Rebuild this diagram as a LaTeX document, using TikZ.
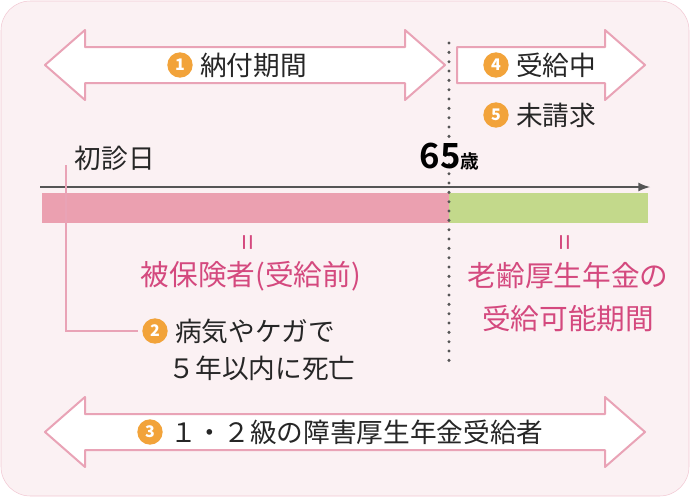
\documentclass[tikz,border=0pt]{standalone}
\usepackage{fontspec}
\setmainfont{Noto Sans CJK JP}
\newfontfamily\boldjp{Noto Sans CJK JP Bold}
\definecolor{bgpink}{HTML}{FBF1F3}
\definecolor{edgepink}{HTML}{E9A3B6}
\definecolor{barpink}{HTML}{EBA0B0}
\definecolor{bargreen}{HTML}{C3D98B}
\definecolor{textpink}{HTML}{D4497E}
\definecolor{badge}{HTML}{F2A33A}
\definecolor{axisgray}{HTML}{555555}
\tikzset{
  badge/.style={circle,fill=badge,text=white,inner sep=0pt,minimum size=19pt,font=\fontsize{12}{12}\selectfont\bfseries},
  label/.style={font=\fontsize{20}{20}\selectfont,text=black!85,anchor=west},
  pinklabel/.style={font=\fontsize{21.5}{32}\selectfont,text=textpink,align=center},
  arrowbox/.style={fill=white,draw=edgepink,line width=1.5pt,line join=round}
}
\begin{document}
\begin{tikzpicture}[x=0.75pt,y=-0.75pt]
  \useasboundingbox (0,0) rectangle (690,497);
  \fill[bgpink,draw=edgepink!60,rounded corners=22pt] (1,1) rectangle (689,496);
  % top arrows
  \draw[arrowbox] (45,65) -- (85,30) -- (85,47) -- (405,47) -- (405,30) -- (445,65)
    -- (405,100) -- (405,83) -- (85,83) -- (85,100) -- cycle;
  \draw[arrowbox] (457,47) -- (605,47) -- (605,30) -- (645,65) -- (605,100) -- (605,83)
    -- (457,83) -- cycle;
  % bottom arrow
  \draw[arrowbox] (45,432) -- (85,397) -- (85,414) -- (605,414) -- (605,397) -- (645,432)
    -- (605,467) -- (605,450) -- (85,450) -- (85,467) -- cycle;
  % bars
  \fill[barpink] (42,193) rectangle (449,223);
  \fill[bargreen] (449,193) rectangle (648,223);
  \draw[white,line width=2pt] (66,193) -- (66,223);
  \draw[axisgray,line width=2pt,-latex] (40,187) -- (650,187);
  \draw[axisgray,line width=2.5pt,line cap=round,dash pattern=on 0pt off 7pt] (449,43) -- (449,368);
  % first visit line
  \draw[edgepink,line width=1.5pt] (66,165) -- (66,331) -- (138,331);
  % labels
  \node[badge] (b1) at (180,65) {1};
  \node[label] (t1) at ([xshift=2pt]b1.east) {納付期間};
  \node[badge] (b4) at (496,65) {4};
  \node[label] (t4) at ([xshift=2pt]b4.east) {受給中};
  \node[badge] (b5) at (496,115) {5};
  \node[label] (t5) at ([xshift=2pt]b5.east) {未請求};
  \node[label] (first) at (70,158) {初診日};
  \node[anchor=west] (age) at (415,157) {\boldjp\fontsize{26}{26}\selectfont 65\fontsize{14}{14}\selectfont 歳};
  \node[pinklabel,rotate=90] (eq1) at (251,243) {=};
  \node[pinklabel,rotate=90] (eq2) at (568,243) {=};
  \node[pinklabel] (insured) at (251,276) {被保険者(受給前)};
  \node[pinklabel] (pension) at (568,297) {老齢厚生年金の\\受給可能期間};
  \node[badge] (b2) at (155,331) {2};
  \node[label] (t2) at ([xshift=2pt]b2.east) {病気やケガで};
  \node[label] (t2b) at (164,368) {５年以内に死亡};
  \node[badge] (b3) at (150,432) {3};
  \node[label] (t3) at ([xshift=2pt]b3.east) {１・２級の障害厚生年金受給者};
\end{tikzpicture}
\end{document}
